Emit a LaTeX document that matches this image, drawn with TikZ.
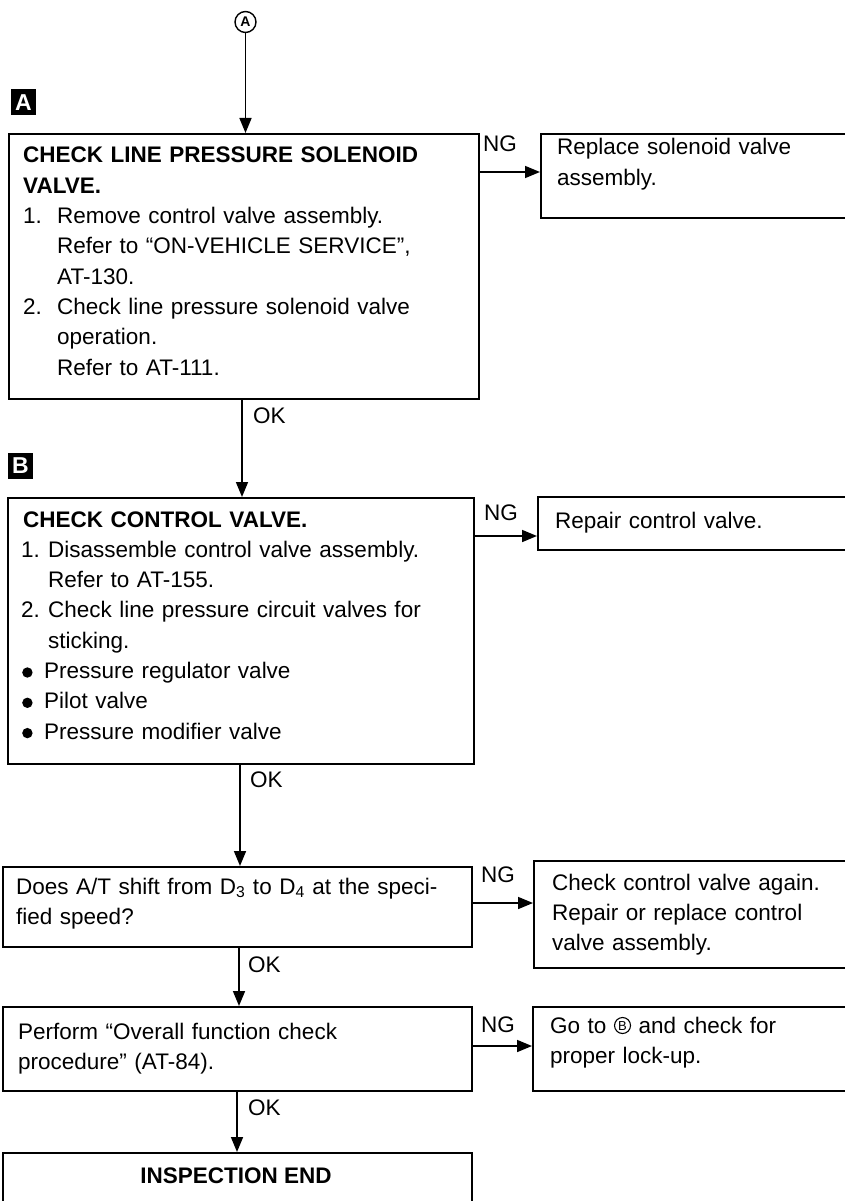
\documentclass[tikz,border=0pt]{standalone}
\usepackage{fontspec}
\setmainfont{Liberation Sans}
\usetikzlibrary{arrows.meta}
\newcommand{\nmb}[2]{\makebox[#1][l]{#2}}
\newcommand{\bul}{\tikz[baseline=0pt]\fill (5.5pt,6pt) circle[radius=5.2pt];}
\newcommand{\circB}{\tikz[baseline=0pt]{\draw[line width=1.1pt] (8pt,7.5pt) circle[radius=8pt]; \node[inner sep=0pt, anchor=base, font=\fontsize{13}{13}\selectfont] at (8pt,3pt) {B};}}
\begin{document}
\begin{tikzpicture}[x=1pt,y=-1pt,
  box/.style={draw, line width=1.8pt, inner sep=0pt, anchor=north west},
  txt/.style={anchor=base west, inner sep=0pt, align=left, text width=470pt, font=\fontsize{22.5}{30.3}\selectfont},
  lbl/.style={anchor=base west, inner sep=0pt, font=\fontsize{22.5}{27}\selectfont},
  tag/.style={fill=black, text=white, inner sep=0pt, minimum width=25pt, minimum height=26pt, font=\fontsize{23}{23}\selectfont\bfseries},
  arr/.style={line width=1.6pt, -{Triangle[length=15pt,width=12pt]}}
]
\useasboundingbox (0,0) rectangle (844,1201);
% boxes
\node[box, minimum width=470, minimum height=265] (b1) at (8,133) {};
\node[box, minimum width=310, minimum height=84] (b2) at (540,133) {};
\node[box, minimum width=466, minimum height=266] (bB) at (7,497) {};
\node[box, minimum width=311, minimum height=53] (bR) at (537,496) {};
\node[box, minimum width=469, minimum height=80] (b3) at (2,866) {};
\node[box, minimum width=315, minimum height=107] (b4) at (533,860) {};
\node[box, minimum width=469, minimum height=84] (b5) at (2,1006) {};
\node[box, minimum width=316, minimum height=84] (b7) at (532,1006) {};
\node[box, minimum width=469, minimum height=60] (b6) at (2,1152) {};
% tags
\node[tag] (tA) at (23.5,102.5) {A};
\node[tag] (tB) at (20.5,466) {B};
\node[circle, draw, line width=1.4pt, minimum size=21pt, inner sep=0pt, font=\fontsize{14}{14}\selectfont\bfseries] (cA) at (245.5,22) {A};
% texts
\node[txt] (x1) at (23,163) {\textbf{CHECK LINE PRESSURE SOLENOID}\\
\textbf{VALVE.}\\
\nmb{34pt}{1.}Remove control valve assembly.\\
\hspace*{34pt}Refer to “ON-VEHICLE SERVICE”,\\
\hspace*{34pt}AT-130.\\
\nmb{34pt}{2.}Check line pressure solenoid valve\\
\hspace*{34pt}operation.\\
\hspace*{34pt}Refer to AT-111.};
\node[txt] (x2) at (557,155) {Replace solenoid valve\\assembly.};
\node[txt] (xB) at (21,527) {\hspace*{2pt}\textbf{CHECK CONTROL VALVE.}\\
\nmb{27pt}{1.}Disassemble control valve assembly.\\
\hspace*{27pt}Refer to AT-155.\\
\nmb{27pt}{2.}Check line pressure circuit valves for\\
\hspace*{27pt}sticking.\\
\nmb{23pt}{\hspace*{1pt}\bul}Pressure regulator valve\\
\nmb{23pt}{\hspace*{1pt}\bul}Pilot valve\\
\nmb{23pt}{\hspace*{1pt}\bul}Pressure modifier valve};
\node[txt] (xR) at (555,528) {Repair control valve.};
\node[txt] (x3) at (16,894) {Does A/T shift from D\textsubscript{3} to D\textsubscript{4} at the speci-\\fied speed?};
\node[txt] (x4) at (552,890) {Check control valve again.\\Repair or replace control\\valve assembly.};
\node[txt] (x5) at (18,1039) {Perform “Overall function check\\procedure” (AT-84).};
\node[txt] (x7) at (550,1033) {Go to \circB\ and check for\\proper lock-up.};
\node[anchor=base, inner sep=0pt, font=\fontsize{22.5}{27}\selectfont\bfseries] (x6) at (236,1183) {INSPECTION END};
% labels
\node[lbl] (ng1) at (483,152) {NG};
\node[lbl] (ng2) at (484,520) {NG};
\node[lbl] (ng3) at (481,882) {NG};
\node[lbl] (ng4) at (481,1032) {NG};
\node[lbl] (ok1) at (253,423) {OK};
\node[lbl] (ok2) at (250,787) {OK};
\node[lbl] (ok3) at (248,972) {OK};
\node[lbl] (ok4) at (248,1115) {OK};
% connectors
\coordinate (n1) at (0,172);
\coordinate (n2) at (0,536);
\coordinate (n3) at (0,903);
\coordinate (n4) at (0,1046);
\coordinate (d1) at (242,0);
\coordinate (d2) at (240,0);
\coordinate (d3) at (239,0);
\coordinate (d4) at (237,0);
\draw[arr] (cA.south) -- (cA.south |- b1.north);
\draw[arr] (b1.east |- n1) -- (b2.west |- n1);
\draw[arr] (bB.east |- n2) -- (bR.west |- n2);
\draw[arr] (b3.east |- n3) -- (b4.west |- n3);
\draw[arr] (b5.east |- n4) -- (b7.west |- n4);
\draw[arr] (b1.south -| d1) -- (bB.north -| d1);
\draw[arr] (bB.south -| d2) -- (b3.north -| d2);
\draw[arr] (b3.south -| d3) -- (b5.north -| d3);
\draw[arr] (b5.south -| d4) -- (b6.north -| d4);
\end{tikzpicture}
\end{document}
